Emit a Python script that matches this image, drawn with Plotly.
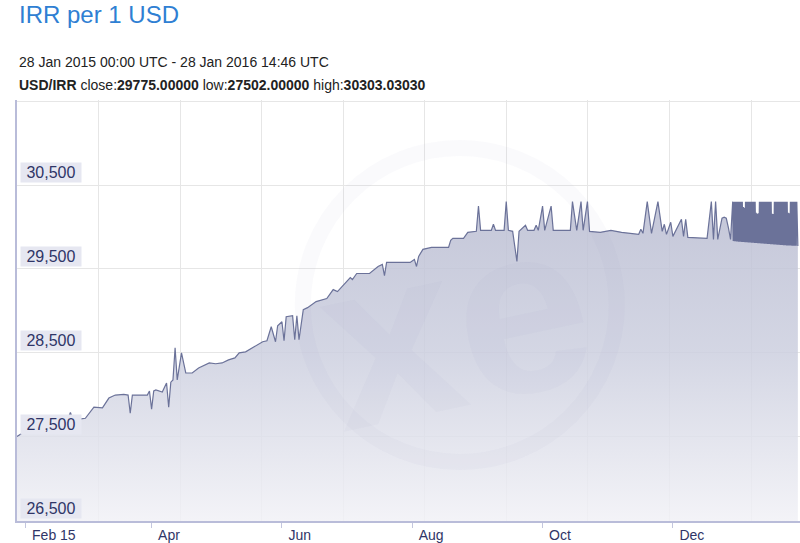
import plotly.graph_objects as go
import pandas as pd

title_text = "IRR per 1 USD"
range_text = "28 Jan 2015 00:00 UTC - 28 Jan 2016 14:46 UTC"
pair_name = "USD/IRR"
close_val = "29775.00000"
low_val = "27502.00000"
high_val = "30303.03030"

dates = [
    "2015-01-28", "2015-02-03", "2015-02-09", "2015-02-15", "2015-02-19", "2015-02-21",
    "2015-02-22", "2015-02-23", "2015-02-27", "2015-03-01", "2015-03-03", "2015-03-05",
    "2015-03-09", "2015-03-12", "2015-03-15", "2015-03-19", "2015-03-21", "2015-03-22",
    "2015-03-23", "2015-03-30", "2015-03-31", "2015-04-01", "2015-04-02", "2015-04-03",
    "2015-04-06", "2015-04-08", "2015-04-09", "2015-04-10", "2015-04-11", "2015-04-12",
    "2015-04-13", "2015-04-15", "2015-04-17", "2015-04-20", "2015-04-23", "2015-04-28",
    "2015-05-01", "2015-05-04", "2015-05-07", "2015-05-10", "2015-05-12", "2015-05-15",
    "2015-05-19", "2015-05-23", "2015-05-25", "2015-05-27", "2015-05-29", "2015-05-30",
    "2015-06-01", "2015-06-02", "2015-06-03", "2015-06-06", "2015-06-07", "2015-06-08",
    "2015-06-09", "2015-06-11", "2015-06-13", "2015-06-17", "2015-06-22", "2015-06-25",
    "2015-06-27", "2015-07-01", "2015-07-03", "2015-07-04", "2015-07-06", "2015-07-12",
    "2015-07-16", "2015-07-18", "2015-07-19", "2015-07-20", "2015-07-31", "2015-08-02",
    "2015-08-03", "2015-08-04", "2015-08-06", "2015-08-10", "2015-08-18", "2015-08-19",
    "2015-08-20", "2015-08-25", "2015-08-27", "2015-08-31", "2015-09-01", "2015-09-02",
    "2015-09-07", "2015-09-08", "2015-09-09", "2015-09-13", "2015-09-14", "2015-09-15",
    "2015-09-17", "2015-09-19", "2015-09-20", "2015-09-23", "2015-09-24", "2015-09-27",
    "2015-09-28", "2015-09-29", "2015-10-01", "2015-10-02", "2015-10-05", "2015-10-06",
    "2015-10-14", "2015-10-15", "2015-10-17", "2015-10-19", "2015-10-20", "2015-10-22",
    "2015-10-23", "2015-10-28", "2015-11-02", "2015-11-07", "2015-11-15", "2015-11-16",
    "2015-11-17", "2015-11-19", "2015-11-21", "2015-11-24", "2015-11-26", "2015-11-27",
    "2015-11-28", "2015-11-30", "2015-12-01", "2015-12-05", "2015-12-06", "2015-12-07",
    "2015-12-08", "2015-12-17", "2015-12-19", "2015-12-20", "2015-12-21", "2015-12-22",
    "2015-12-23", "2015-12-24", "2015-12-25", "2015-12-26", "2015-12-27", "2015-12-28",
]
values = [
    27502, 27600, 27655, 27700, 27721, 27725,
    27790, 27715, 27712, 27720, 27790, 27853,
    27845, 27961, 27997, 28005, 27997, 27781,
    27997, 27997, 28045, 27829, 28045, 28057,
    28033, 28141, 27853, 28150, 28177, 28560,
    28177, 28500, 28260, 28260, 28320, 28380,
    28370, 28380, 28416, 28440, 28500, 28512,
    28572, 28632, 28644, 28811, 28632, 28823,
    28871, 28644, 28931, 28943, 28656, 28943,
    28656, 29015, 29039, 29111, 29147, 29254,
    29231, 29338, 29398, 29374, 29446, 29446,
    29530, 29554, 29422, 29578, 29578, 29614,
    29530, 29650, 29734, 29757, 29757, 29841,
    29865, 29865, 29937, 29949, 30249, 29961,
    29961, 30033, 29961, 29961, 30303, 29961,
    29949, 29590, 29949, 30021, 29961, 29961,
    30021, 29961, 30249, 29961, 30249, 29961,
    29961, 30303, 29961, 30303, 29961, 30303,
    29949, 29937, 29961, 29937, 29913, 29973,
    29925, 30303, 29925, 30303, 29949, 30033,
    29913, 30057, 29889, 30093, 29889, 30093,
    29877, 29865, 30303, 29853, 30303, 29853,
    30000, 30105, 30117, 30105, 29990, 29853,
]

# intraday quotes (every 6 hours) from 29 Dec 2015 to the close
dense_start = "2015-12-29"
dense_values = [
    30303, 29835, 30303, 29832,
    30303, 29830, 30303, 29829,
    30303, 29828, 30303, 29826,
    30303, 29825, 30303, 29824,
    30303, 29823, 30303, 29822,
    30240, 29821, 30230, 29820,
    30303, 29819, 30303, 29818,
    30303, 29817, 30303, 29816,
    30303, 29815, 30303, 29814,
    30303, 29813, 30303, 29812,
    30303, 29811, 30303, 29810,
    30170, 29809, 30160, 29808,
    30165, 29807, 30303, 29806,
    30303, 29805, 30303, 29804,
    30303, 29803, 30303, 29802,
    30303, 29801, 30303, 29800,
    30303, 29799, 30303, 29798,
    30303, 29797, 30303, 29796,
    30303, 29795, 30160, 29794,
    30155, 29793, 30303, 29792,
    30303, 29791, 30303, 29790,
    30303, 29789, 30303, 29788,
    30303, 29787, 30303, 29786,
    30303, 29785, 30303, 29784,
    30303, 29783, 30303, 29782,
    30303, 29781, 30303, 29780,
    30170, 29780, 30165, 29779,
    30303, 29779, 30303, 29778,
    30303, 29778, 30303, 29777,
    30303, 29777, 30303, 29776,
    30303, 29776, 29775,
]

tick_dates = ["2015-02-01", "2015-04-01", "2015-06-01", "2015-08-01", "2015-10-01", "2015-12-01"]
tick_labels = ["Feb 15", "Apr", "Jun", "Aug", "Oct", "Dec"]
y_ticks = [26500, 27500, 28500, 29500, 30500]

x_all = list(pd.to_datetime(dates)) + list(pd.date_range(dense_start, periods=len(dense_values), freq="6h"))
y_all = values + dense_values

FONT = "Liberation Sans, Arial, Helvetica, sans-serif"
LAV = "#b9bcd9"
NAVY = "#2f3567"

fig = go.Figure()
fig.add_trace(go.Scatter(
    x=x_all, y=y_all, mode="lines",
    line=dict(color="#6b7299", width=1.2),
    fill="tozeroy",
    fillgradient=dict(
        type="vertical",
        colorscale=[[0, "rgba(241,241,246,0.85)"], [0.53, "rgba(204,207,223,0.85)"], [1, "rgba(186,189,210,0.85)"]],
        start=26500, stop=30300,
    ),
    hoverinfo="skip",
))
# empty trace to activate the overlay axis used for evenly spaced vertical gridlines
fig.add_trace(go.Scatter(x=[], y=[], xaxis="x2", yaxis="y", showlegend=False, hoverinfo="skip"))

annotations = [
    dict(x=0, y=1.202, xref="paper", yref="paper", xanchor="left", yanchor="middle",
         text=title_text, showarrow=False, font=dict(family=FONT, size=24, color="#2f7fd3")),
    dict(x=0, y=1.0903, xref="paper", yref="paper", xanchor="left", yanchor="middle",
         text=range_text, showarrow=False, font=dict(family=FONT, size=14, color="#222222")),
    dict(x=0, y=1.0356, xref="paper", yref="paper", xanchor="left", yanchor="middle",
         text=f"<b>{pair_name}</b> close:<b>{close_val}</b> low:<b>{low_val}</b> high:<b>{high_val}</b>",
         showarrow=False, font=dict(family=FONT, size=14, color="#222222")),
]
for v in y_ticks:
    annotations.append(dict(
        x=0, y=v, xref="paper", yref="y", xanchor="left", yanchor="bottom",
        xshift=3, yshift=2, text=f"{v:,}", showarrow=False,
        bgcolor="#e6e7f1", borderpad=2, width=56, height=15,
        font=dict(family=FONT, size=16, color=NAVY),
    ))

# faint xe watermark
annotations.append(dict(
    x=0.56, y=0.47, xref="paper", yref="paper", text="<b>xe</b>", showarrow=False,
    textangle=-12, font=dict(family=FONT, size=240, color="rgba(140,145,185,0.045)"),
))

fig.update_layout(
    width=800, height=543,
    margin=dict(l=17, r=0, t=100, b=22),
    paper_bgcolor="white", plot_bgcolor="white",
    showlegend=False,
    xaxis=dict(
        type="date", range=["2015-01-28", "2016-01-29 12:00"],
        showgrid=False, zeroline=False,
        showline=True, linecolor=LAV, linewidth=2,
        ticks="outside", ticklen=5, tickcolor="#c3c6de", tickwidth=1,
        tickvals=tick_dates, ticktext=tick_labels,
        ticklabelposition="outside right", ticklabelshift=5,
        tickfont=dict(family=FONT, size=14, color=NAVY),
    ),
    xaxis2=dict(
        overlaying="x", side="top", range=[0, 9.6], tick0=0, dtick=1,
        showgrid=True, gridcolor="#e6e6e6", gridwidth=1,
        showticklabels=False, ticks="", zeroline=False, showline=False,
    ),
    yaxis=dict(
        range=[26495, 31515], tick0=26500, dtick=1000,
        showgrid=True, gridcolor="#e6e6e6", gridwidth=1,
        showticklabels=False, ticks="", zeroline=False,
        showline=True, linecolor=LAV, linewidth=2,
    ),
    shapes=[dict(
        type="circle", xref="paper", yref="paper",
        x0=0.365, x1=0.766, y0=0.140, y1=0.886,
        line=dict(color="rgba(140,145,185,0.045)", width=16), layer="above",
    )],
    annotations=annotations,
)

fig.write_html("out.html", config={"displayModeBar": False},
               post_script="document.body.style.margin='0px';")
